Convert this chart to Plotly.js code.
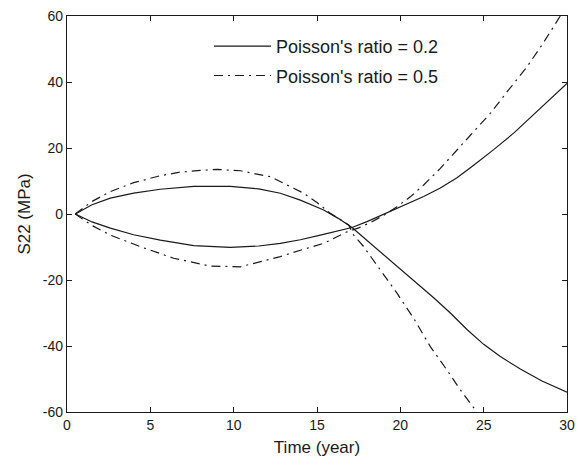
<!DOCTYPE html>
<html>
<head>
<meta charset="utf-8">
<script src="https://cdn.plot.ly/plotly-3.0.1.min.js"></script>
<style>html,body{margin:0;padding:0;background:#fff;}#chart{width:579px;height:457px;}</style>
</head>
<body>
<div id="chart"></div>
<script>
// Poisson's ratio = 0.2 (solid), two branches
var t02a = [0.5, 1.5, 2.6, 4, 5.6, 7.6, 9.8, 11.5, 12.8, 14, 15.4, 16.3, 17.1, 18, 19, 20, 21, 22, 23, 24, 25, 26, 27.2, 28.5, 30];
var s02a = [0, 2.8, 4.8, 6.3, 7.5, 8.4, 8.4, 7.6, 6.3, 4.2, 1.2, -1.4, -4.1, -8, -12.3, -16.6, -21, -25.4, -30, -35, -39.5, -43.2, -47, -50.6, -54];
var t02b = [0.5, 1.5, 2.6, 4, 5.6, 7.6, 9.8, 11.5, 12.8, 14, 15.2, 16.2, 17.1, 18, 18.8, 19.8, 20.6, 21.4, 22.4, 23.4, 24.4, 25.6, 26.8, 28.4, 30];
var s02b = [0, -2.4, -4.3, -6.3, -7.9, -9.6, -10.1, -9.7, -8.9, -7.8, -6.4, -5.2, -4.1, -2.3, -0.5, 1.8, 3.6, 5.3, 7.9, 11, 14.8, 19.5, 24.5, 32, 39.6];
// Poisson's ratio = 0.5 (dash-dot), two branches
var t05a = [0.5, 1.5, 2.6, 4, 5.6, 6.8, 8, 9, 10.4, 12.2, 13.6, 14.2, 15, 15.8, 16.9, 17.2, 17.8, 18.6, 19.8, 20.8, 21.8, 22.8, 23.6, 24.6];
var s05a = [0, 3.8, 6.8, 9.5, 11.6, 12.7, 13.2, 13.5, 13.1, 11.3, 7.8, 6.3, 3.5, 0.2, -3.3, -6.4, -9.9, -15.5, -24, -31.6, -40.2, -47.3, -53.3, -60];
var t05b = [0.5, 1.5, 2.6, 4.4, 6.4, 8.6, 10.4, 12.8, 14, 15.4, 16.8, 17.5, 18.2, 19, 19.8, 20.6, 21.4, 22.4, 23.4, 24.4, 25.4, 26.4, 27.6, 28.6, 29.6];
var s05b = [0, -3.5, -6.4, -9.9, -13.4, -15.8, -16, -12.9, -11, -8.9, -5.4, -4.2, -2.6, -0.4, 2.2, 5.2, 8.8, 13.8, 19.4, 24.8, 30.5, 37, 44.6, 52, 60];

var names = ["Poisson's ratio = 0.2", "Poisson's ratio = 0.5"];
var xTicks = [0, 5, 10, 15, 20, 25, 30];
var yTicks = [-60, -40, -20, 0, 20, 40, 60];

var ink = '#1a1a1a';
var font = 'Liberation Sans, Arial, sans-serif';

var traces = [
  {x: t02a.concat([null], t02b), y: s02a.concat([null], s02b), name: names[0], mode: 'lines', legendgroup: 'a',
   line: {color: ink, width: 1.2, dash: 'solid'}, connectgaps: false},
  {x: t05a.concat([null], t05b), y: s05a.concat([null], s05b), name: names[1], mode: 'lines', legendgroup: 'b',
   line: {color: ink, width: 1.2, dash: '9px,5px,2px,5px'}, connectgaps: false}
];

var axisBase = {
  showgrid: false, zeroline: false, showline: true, linecolor: ink, linewidth: 1.2,
  mirror: 'ticks', ticks: 'inside', ticklen: 5, tickcolor: ink, tickwidth: 1,
  tickfont: {family: font, size: 14, color: ink}
};

var layout = {
  width: 579, height: 457,
  margin: {l: 67, r: 12, t: 16, b: 45},
  paper_bgcolor: '#fff', plot_bgcolor: '#fff',
  font: {family: font, color: ink},
  showlegend: true,
  legend: {x: 0.284, y: 0.97, xanchor: 'left', yanchor: 'top', bgcolor: 'rgba(0,0,0,0)',
           font: {family: font, size: 18, color: ink}, itemwidth: 57, tracegroupgap: 3, traceorder: 'grouped'},
  xaxis: Object.assign({}, axisBase, {range: [0, 30], tickvals: xTicks, ticktext: xTicks.map(String),
           title: {text: 'Time (year)', font: {family: font, size: 17, color: ink}, standoff: 10}}),
  yaxis: Object.assign({}, axisBase, {range: [-60, 60], tickvals: yTicks, ticktext: yTicks.map(String),
           title: {text: 'S22 (MPa)', font: {family: font, size: 17, color: ink}, standoff: 7}})
};

Plotly.newPlot('chart', traces, layout, {staticPlot: true, displayModeBar: false});
</script>
</body>
</html>
